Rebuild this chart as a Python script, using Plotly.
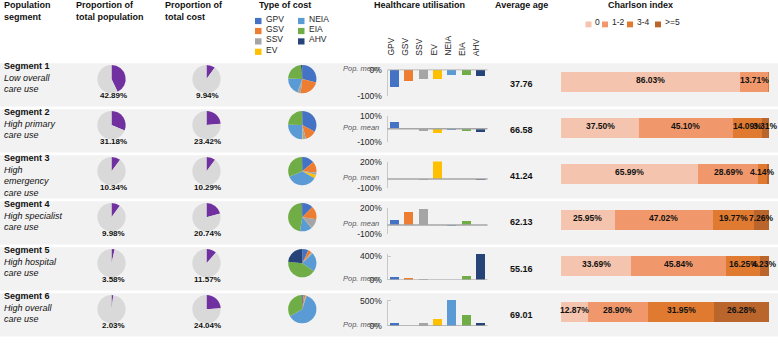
import plotly.graph_objects as go

W, H = 778, 344

# ---------------- data ----------------
segments = ["Segment 1", "Segment 2", "Segment 3", "Segment 4", "Segment 5", "Segment 6"]
descriptions = ["Low overall<br>care use", "High primary<br>care use", "High<br>emergency<br>care use",
                "High specialist<br>care use", "High hospital<br>care use", "High overall<br>care use"]

pop_share = [42.89, 31.18, 10.34, 9.98, 3.58, 2.03]
cost_share = [9.94, 23.42, 10.29, 20.74, 11.57, 24.04]

cost_types = ["GPV", "GSV", "SSV", "EV", "NEIA", "EIA", "AHV"]
cost_colors = ["#4472c4", "#ed7d31", "#a5a5a5", "#ffc000", "#5b9bd5", "#70ad47", "#264478"]

# share of cost by type (per segment 1..6)
mix_gpv = [29, 33, 14, 12.5, 7, 1.5]
mix_gsv = [23, 13, 12.5, 15, 4, 2]
mix_ssv = [3.5, 4, 3, 11, 1.5, 1]
mix_ev = [0.3, 0.5, 4, 0.3, 0.3, 0.3]
mix_neia = [20, 25, 35, 14, 22, 62]
mix_eia = [23, 24.5, 31, 46.5, 42, 32.5]
mix_ahv = [1.5, 0.3, 0.5, 1, 23.5, 0.7]

# healthcare utilisation, % difference from population mean (per segment 1..6)
util_gpv = [-68, 53, 5, 62, 42, 64]
util_gsv = [-42, -2, 2, 152, 37, 3]
util_ssv = [-36, -16, -5, 189, 16, 58]
util_ev = [-36, -36, 218, -3, -10, 135]
util_neia = [-20, -12, -2, -5, 5, 513]
util_eia = [-20, -16, -3, 48, 58, 212]
util_ahv = [-24, -24, -6, -3, 437, 51]

util_axis_min = [-100, -100, -100, -100, 0, 0]
util_axis_max = [0, 100, 200, 200, 440, 520]
util_ticks = [[-100, 0], [-100, 100], [-100, 200], [-100, 200], [0, 400], [0, 500]]

avg_age = [37.76, 66.58, 41.24, 62.13, 55.16, 69.01]

charlson_cats = ["0", "1-2", "3-4", ">=5"]
charlson_colors = ["#f5c4ae", "#f0986c", "#e07a30", "#b9652b"]
charlson_0 = [86.03, 37.50, 65.99, 25.95, 33.69, 12.87]
charlson_1_2 = [13.71, 45.10, 28.69, 47.02, 45.84, 28.90]
charlson_3_4 = [0.26, 14.09, 4.14, 19.77, 16.25, 31.95]
charlson_5 = [0.0, 3.31, 1.18, 7.26, 4.23, 26.28]

# ---------------- layout helpers ----------------
FONT = "Liberation Sans, Arial, sans-serif"
BAND_TOP0, PITCH, BAND_H = 60, 47.4, 44.5
PURPLE, LIGHT = "#7030a0", "#d9d9d9"


def py(p):
    return 1 - p / H


def pxx(p):
    return p / W


def band_top(i):
    return BAND_TOP0 + i * PITCH


def note(x, y, text, size=9, color="#111", xanchor="center", yanchor="middle", **kw):
    d = dict(x=pxx(x), y=py(y), xref="paper", yref="paper", text=text, showarrow=False,
             xanchor=xanchor, yanchor=yanchor, font=dict(size=size, color=color))
    d.update(kw)
    return d


fig = go.Figure()
shapes, annotations = [], []
layout_axes = {}

for i in range(6):
    t = band_top(i)
    shapes.append(dict(type="rect", xref="paper", yref="paper", x0=0, x1=1,
                       y0=py(t + BAND_H), y1=py(t), fillcolor="#f2f2f2",
                       line=dict(width=0), layer="below"))

# ---------------- pies ----------------
mix_series = [mix_gpv, mix_gsv, mix_ssv, mix_ev, mix_neia, mix_eia, mix_ahv]
R = 14.6
for i in range(6):
    t = band_top(i)
    cy = t + 16.3
    for cx, vals, cols in [
        (111.5, [pop_share[i], 100 - pop_share[i]], [PURPLE, LIGHT]),
        (206.5, [cost_share[i], 100 - cost_share[i]], [PURPLE, LIGHT]),
        (302.3, [s[i] for s in mix_series], cost_colors),
    ]:
        fig.add_trace(go.Pie(values=vals, labels=list(range(len(vals))),
                             marker=dict(colors=cols, line=dict(width=0)),
                             sort=False, direction="clockwise", rotation=0,
                             textinfo="none", hoverinfo="skip", showlegend=False,
                             domain=dict(x=[pxx(cx - R), pxx(cx + R)],
                                         y=[py(cy + R), py(cy - R)])))
    annotations.append(note(113, t + 32.7, f"<b>{pop_share[i]:.2f}%</b>", size=8))
    annotations.append(note(207.5, t + 32.7, f"<b>{cost_share[i]:.2f}%</b>", size=8))
    annotations.append(note(2, t - 4.5, f"<b>{segments[i]}</b><br><i>{descriptions[i]}</i>",
                            size=9, xanchor="left", yanchor="top", align="left"))
    annotations.append(note(521, t + 21.8, f"<b>{avg_age[i]:.2f}</b>", size=9))

# ---------------- utilisation bars ----------------
util_series = [util_gpv, util_gsv, util_ssv, util_ev, util_neia, util_eia, util_ahv]
for i in range(6):
    k = i + 2
    t = band_top(i)
    fig.add_trace(go.Bar(x=cost_types, y=[s[i] for s in util_series],
                         marker=dict(color=cost_colors, line=dict(width=0)),
                         width=0.63, xaxis=f"x{k}", yaxis=f"y{k}",
                         hoverinfo="skip", showlegend=False))
    layout_axes[f"xaxis{k}"] = dict(domain=[pxx(387.5), pxx(487.5)], anchor=f"y{k}",
                                    range=[-0.5, 6.5], showticklabels=False, showgrid=False,
                                    zeroline=False, showline=False, ticks="", fixedrange=True)
    layout_axes[f"yaxis{k}"] = dict(domain=[py(t + 33.5), py(t + 6.5)], anchor=f"x{k}",
                                    range=[util_axis_min[i], util_axis_max[i]],
                                    tickmode="array", tickvals=util_ticks[i],
                                    ticktext=[f"{v}%" for v in util_ticks[i]],
                                    tickfont=dict(size=8.5, color="#262626"),
                                    showgrid=False, zeroline=False, showline=True,
                                    linecolor="#c8c8c8", linewidth=1, ticks="inside",
                                    ticklen=3, tickcolor="#c8c8c8", ticklabelstandoff=3,
                                    fixedrange=True)
    shapes.append(dict(type="line", xref=f"x{k} domain", yref=f"y{k}", x0=0, x1=1,
                       y0=0, y1=0, line=dict(color="#a6a6a6", width=1.5)))
    annotations.append(dict(x=pxx(380.5), y=0, xref="paper", yref=f"y{k}", yshift=1.5,
                            xanchor="right", yanchor="middle", text="<i>Pop. mean</i>",
                            showarrow=False, font=dict(size=7.5, color="#595959")))

for c in cost_types:
    annotations.append(dict(x=c, y=py(54.5), xref="x2", yref="paper", yanchor="bottom",
                            xanchor="center", textangle=-90, xshift=-4, text=c,
                            showarrow=False, font=dict(size=8.5, color="#262626")))

# ---------------- Charlson stacked bars ----------------
ch_series = [charlson_0, charlson_1_2, charlson_3_4, charlson_5]
for name, vals, col in zip(charlson_cats, ch_series, charlson_colors):
    fig.add_trace(go.Bar(y=segments, x=vals, orientation="h", name=name,
                         marker=dict(color=col, line=dict(width=0)), width=0.42,
                         xaxis="x8", yaxis="y8", hoverinfo="skip", showlegend=False))

for i in range(6):
    start = 0
    for vals in ch_series:
        v = vals[i]
        if v >= 2:
            annotations.append(dict(x=start + v / 2, y=segments[i], xref="x8", yref="y8",
                                    xanchor="center", yanchor="middle", yshift=2,
                                    text=f"<b>{v:.2f}%</b>", showarrow=False,
                                    font=dict(size=8.5, color="#111")))
        start += v

top_c = 55.5
layout_axes["xaxis8"] = dict(domain=[pxx(561), pxx(769)], anchor="y8", range=[0, 100],
                             visible=False, fixedrange=True)
layout_axes["yaxis8"] = dict(domain=[py(top_c + 6 * PITCH), py(top_c)], anchor="x8",
                             type="category", categoryorder="array", categoryarray=segments,
                             range=[5.5, -0.5], visible=False, fixedrange=True)

# ---------------- headers ----------------
for x, txt, xa in [(1.5, "<b>Population<br>segment</b>", "left"),
                   (74, "<b>Proportion of<br>total population</b>", "left"),
                   (163, "<b>Proportion of<br>total cost</b>", "left"),
                   (285, "<b>Type of cost</b>", "center"),
                   (419, "<b>Healthcare utilisation</b>", "center"),
                   (521, "<b>Average age</b>", "center"),
                   (640, "<b>Charlson index</b>", "center")]:
    annotations.append(note(x, -7.5, txt, size=9, xanchor=xa, yanchor="top", align="left"))

# Type of cost legend
leg_pos = [(255, 16.5), (255, 26.8), (255, 37.5), (255, 48.2),
           (298, 16.5), (298, 26.8), (298, 37.5)]
for (lx, ly), name, col in zip(leg_pos, cost_types, cost_colors):
    shapes.append(dict(type="rect", xref="paper", yref="paper", x0=pxx(lx), x1=pxx(lx + 6.5),
                       y0=py(ly + 3.2), y1=py(ly - 3.2), fillcolor=col, line=dict(width=0)))
    annotations.append(note(lx + 9, ly - 2, name, size=8.5, color="#262626", xanchor="left"))

# Charlson legend
ch_leg_x = [585.5, 602, 627, 655]
for lx, name, col in zip(ch_leg_x, charlson_cats, charlson_colors):
    shapes.append(dict(type="rect", xref="paper", yref="paper", x0=pxx(lx), x1=pxx(lx + 6),
                       y0=py(23), y1=py(17), fillcolor=col, line=dict(width=0)))
    annotations.append(note(lx + 7.5, 18, name, size=8.5, color="#262626", xanchor="left"))

fig.update_layout(width=W, height=H, margin=dict(l=0, r=0, t=0, b=0),
                  paper_bgcolor="white", plot_bgcolor="rgba(0,0,0,0)",
                  font=dict(family=FONT), showlegend=False, hovermode=False,
                  barmode="stack", shapes=shapes, annotations=annotations,
                  xaxis=dict(visible=False), yaxis=dict(visible=False),
                  **layout_axes)

fig.write_html("out.html", config={"displayModeBar": False, "staticPlot": True},
               post_script="document.body.style.margin='0';document.body.style.overflow='hidden';")
